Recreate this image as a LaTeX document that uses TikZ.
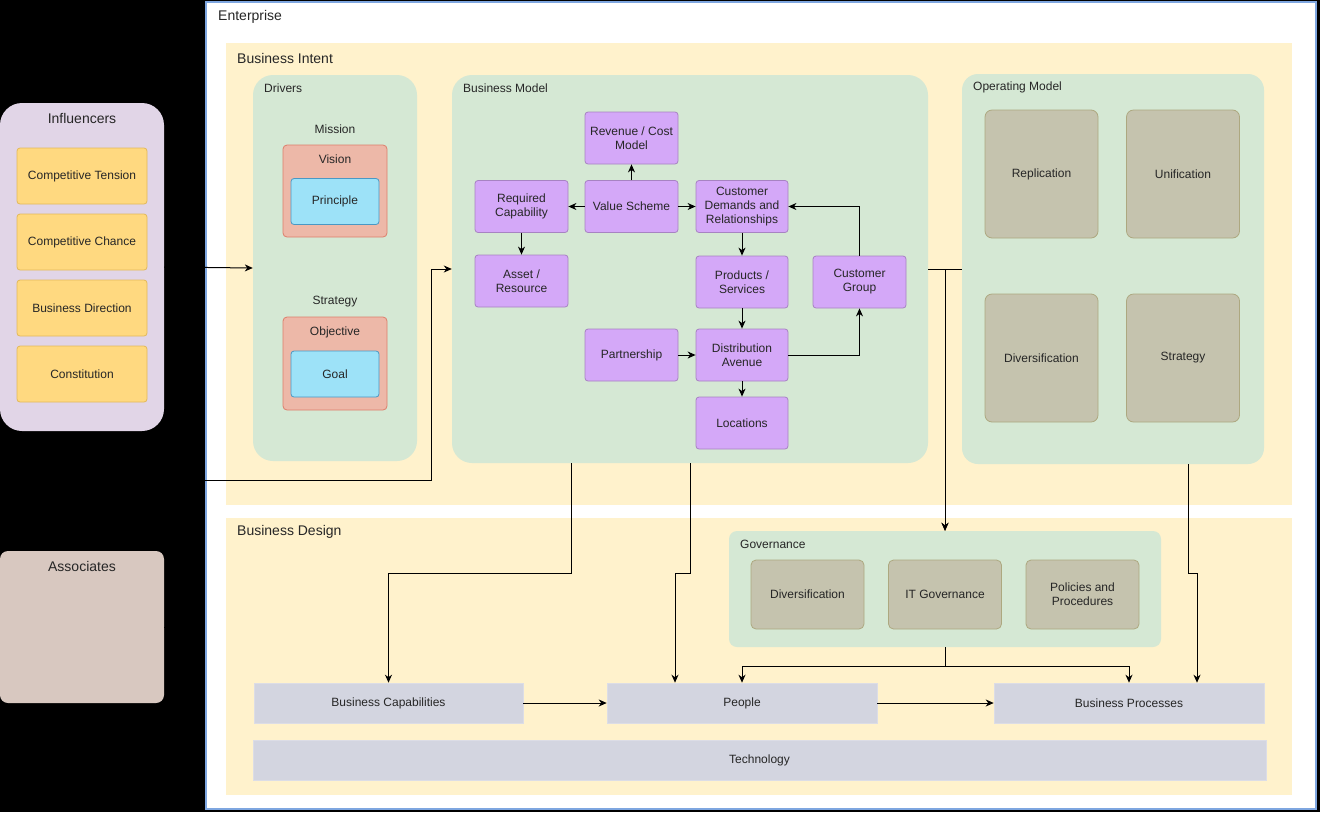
\documentclass[tikz,border=0pt]{standalone}
\usepackage{fontspec}
\setmainfont{Liberation Sans}
\usetikzlibrary{arrows.meta}
\definecolor{entblue}{HTML}{7EA6E0}
\definecolor{zoneyel}{HTML}{FFF2CC}
\definecolor{contgreen}{HTML}{D5E8D4}
\definecolor{inflpurp}{HTML}{E1D5E7}
\definecolor{itemyel}{HTML}{FFD980}
\definecolor{itemyelS}{HTML}{E3B95A}
\definecolor{assocbg}{HTML}{D8C8C0}
\definecolor{salmon}{HTML}{EDB8A8}
\definecolor{salmonS}{HTML}{DD7F6B}
\definecolor{cyanbox}{HTML}{9DE2F8}
\definecolor{cyanS}{HTML}{4A98C4}
\definecolor{purpbox}{HTML}{D4A8F8}
\definecolor{purpS}{HTML}{A783C2}
\definecolor{olive}{HTML}{C5C3AE}
\definecolor{oliveS}{HTML}{ADA880}
\definecolor{lav}{HTML}{D3D5E0}
\tikzset{
  lbl/.style={font=\fontsize{12}{14}\selectfont, text=black!85, inner sep=0pt},
  biglbl/.style={font=\fontsize{14}{16}\selectfont, text=black!85, inner sep=0pt},
  cont/.style={fill=contgreen, draw=none, rounded corners=20pt},
  itembox/.style={draw=itemyelS, fill=itemyel, line width=0.8pt, rounded corners=3pt, minimum width=130pt, minimum height=56pt, lbl},
  salbox/.style={draw=salmonS, fill=salmon, line width=0.8pt, rounded corners=4pt, minimum width=104pt},
  cyabox/.style={draw=cyanS, fill=cyanbox, line width=0.8pt, rounded corners=3pt, minimum width=88pt, minimum height=46pt, lbl},
  pbox/.style={draw=purpS, fill=purpbox, line width=0.8pt, rounded corners=3pt, minimum width=93pt, minimum height=52pt, align=center, lbl},
  obox/.style={draw=oliveS, fill=olive, line width=0.8pt, rounded corners=7pt, minimum width=113pt, minimum height=128pt, lbl},
  gbox/.style={draw=oliveS, fill=olive, line width=0.8pt, rounded corners=5pt, minimum width=113pt, minimum height=69pt, align=center, lbl},
  lbox/.style={fill=lav, draw=lav!80!white, line width=0.6pt, minimum width=270pt, minimum height=40pt, lbl},
  arr/.style={-{Stealth[length=8pt,width=7pt,inset=2.5pt]}, line width=1pt, black},
  ln/.style={line width=1pt, black}
}
\begin{document}
\begin{tikzpicture}[x=1pt,y=-1pt]
\useasboundingbox (0,0) rectangle (1320,812);
\fill[black] (0,0) rectangle (1320,812);
% Enterprise
\node[draw=entblue, fill=white, line width=2pt, minimum width=1110pt, minimum height=807pt, inner sep=0pt] (ent) at (760.5,405) {};
\node[biglbl, anchor=west] (entl) at (218,17) {Enterprise};
% zones
\node[fill=zoneyel, minimum width=1066pt, minimum height=462pt, inner sep=0pt] (intent) at (759,274) {};
\node[biglbl, anchor=west] (intentl) at (237,58) {Business Intent};
\node[fill=zoneyel, minimum width=1066pt, minimum height=277pt, inner sep=0pt] (design) at (759,656.5) {};
\node[biglbl, anchor=west] (designl) at (237,532) {Business Design};
% Influencers
\node[fill=inflpurp, rounded corners=22pt, minimum width=164pt, minimum height=328pt, inner sep=0pt] (infl) at (82,267) {};
\node[biglbl] (infll) at (82,118) {Influencers};
\node[itembox] (ct) at (82,176) {Competitive Tension};
\node[itembox] (cc) at (82,242) {Competitive Chance};
\node[itembox] (bd) at (82,308) {Business Direction};
\node[itembox] (co) at (82,374) {Constitution};
% Associates
\node[fill=assocbg, rounded corners=8pt, minimum width=164pt, minimum height=152pt, inner sep=0pt] (assoc) at (82,627) {};
\node[biglbl] (assocl) at (82,566) {Associates};
% Drivers
\node[cont, minimum width=164pt, minimum height=386pt, inner sep=0pt] (drivers) at (335,268) {};
\node[lbl, anchor=west] (driversl) at (264,88) {Drivers};
\node[lbl] (mission) at (335,129) {Mission};
\node[salbox, minimum height=92pt] (vision) at (335,191) {};
\node[lbl] (visionl) at (335,159) {Vision};
\node[cyabox] (principle) at (335,201.5) {Principle};
\node[lbl] (strategyl) at (335,302) {Strategy};
\node[salbox, minimum height=93pt] (objective) at (335,363.5) {};
\node[lbl] (objectivel) at (335,332) {Objective};
\node[cyabox] (goal) at (335,374) {Goal};
% Business Model
\node[cont, minimum width=476pt, minimum height=388pt, inner sep=0pt] (bm) at (690,269) {};
\node[lbl, anchor=west] (bml) at (463,88) {Business Model};
\node[pbox] (rev) at (631.5,138) {Revenue / Cost\\Model};
\node[pbox] (reqcap) at (521.5,206.5) {Required\\Capability};
\node[pbox] (vs) at (631.5,206.5) {Value Scheme};
\node[pbox, minimum width=92pt] (custdem) at (742,206.5) {Customer\\Demands and\\Relationships};
\node[pbox] (asset) at (521.5,281) {Asset /\\Resource};
\node[pbox, minimum width=92pt] (prod) at (742,282) {Products /\\Services};
\node[pbox] (cgroup) at (859.5,282) {Customer\\Group};
\node[pbox] (partner) at (631.5,355) {Partnership};
\node[pbox, minimum width=92pt] (dist) at (742,355) {Distribution\\Avenue};
\node[pbox, minimum width=92pt] (loc) at (742,423) {Locations};
% Operating Model
\node[cont, rounded corners=16pt, minimum width=302pt, minimum height=390pt, inner sep=0pt] (om) at (1113,269) {};
\node[lbl, anchor=west] (oml) at (973,87) {Operating Model};
\node[obox] (repl) at (1041.5,174) {Replication};
\node[obox] (unif) at (1183,174) {Unification};
\node[obox] (divers) at (1041.5,358) {Diversification};
\node[obox] (strat) at (1183,358) {Strategy};
% Governance
\node[cont, rounded corners=8pt, minimum width=432pt, minimum height=116pt, inner sep=0pt] (gov) at (945,589) {};
\node[lbl, anchor=west] (govl) at (740,544) {Governance};
\node[gbox] (gdiv) at (807.5,594.5) {Diversification};
\node[gbox] (itgov) at (945,594.5) {IT Governance};
\node[gbox] (pol) at (1082.5,594.5) {Policies and\\Procedures};
% bottom layer
\node[lbox, minimum width=269pt] (buscap) at (388.5,703) {Business Capabilities};
\node[lbox] (people) at (742,703) {People};
\node[lbox] (bp) at (1129,703) {Business Processes};
\node[lbox, minimum width=1013pt] (tech) at (759.5,760) {Technology};
% connectors
\draw[arr] (infl.east) -- (drivers.west);
\draw[arr] (assoc.east) -- (185,627) -- (185,480) -- (431,480) -- (431,269) -- (bm.west);
\draw[arr] (vs.north) -- (rev.south);
\draw[arr] (vs.west) -- (reqcap.east);
\draw[arr] (vs.east) -- (custdem.west);
\draw[arr] (reqcap.south) -- (asset.north);
\draw[arr] (custdem.south) -- (prod.north);
\draw[arr] (prod.south) -- (dist.north);
\draw[arr] (partner.east) -- (dist.west);
\draw[arr] (dist.south) -- (loc.north);
\draw[arr] (dist.east) -| (cgroup.south);
\draw[arr] (cgroup.north) |- (custdem.east);
\draw[arr] (bm.east) -| (gov.north);
\draw[arr] (om.west) -| (gov.north);
\draw[arr] ([xshift=-119pt]bm.south) -- ++(0,110) -| (buscap.north);
\draw[arr] (bm.south) -- ++(0,110) -| ([xshift=-67pt]people.north);
\draw[arr] ([xshift=75pt]om.south) -- ++(0,109) -| ([xshift=68pt]bp.north);
\draw[arr] (gov.south) -- ++(0,19) -| (people.north);
\draw[arr] (gov.south) -- ++(0,19) -| (bp.north);
\draw[arr] (buscap.east) -- (people.west);
\draw[arr] (people.east) -- (bp.west);
\end{tikzpicture}
\end{document}
